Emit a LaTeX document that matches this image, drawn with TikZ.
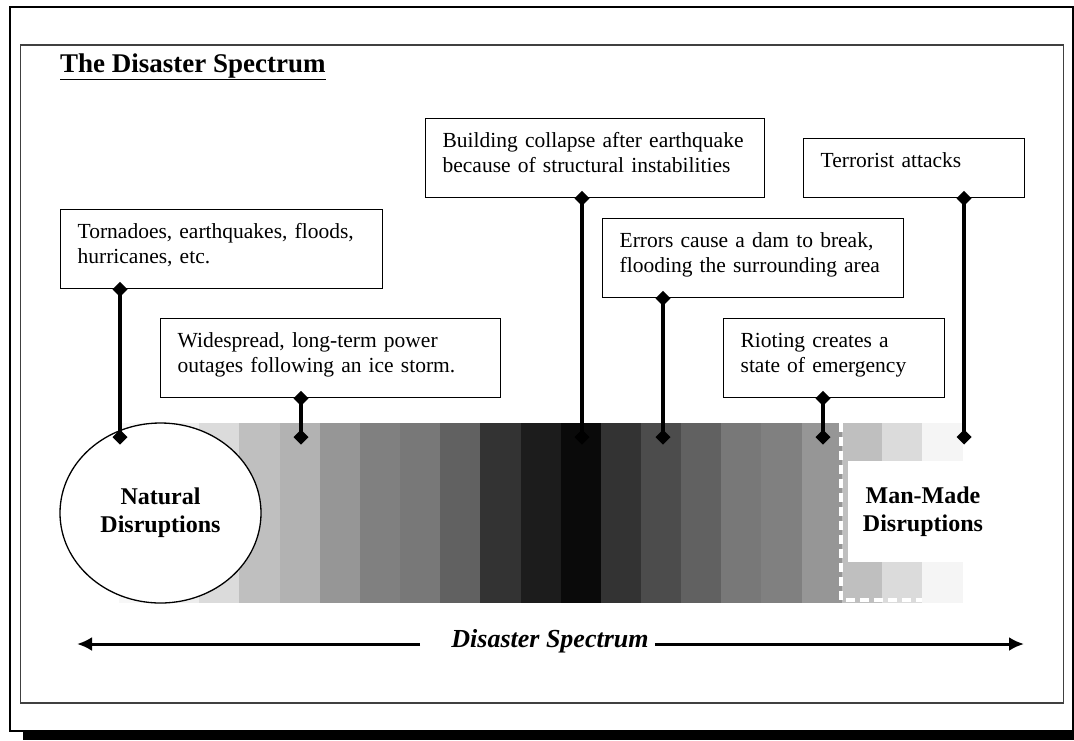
\documentclass[tikz,border=0pt]{standalone}
\usepackage{fontspec}
\setmainfont{Liberation Serif}
\usetikzlibrary{arrows.meta,shapes.geometric}

\tikzset{
  event/.style={draw, fill=white, line width=1.3pt, anchor=north west,
    inner xsep=17pt, inner ysep=0pt, align=left,
    font=\fontsize{21.5}{25}\selectfont, text height=29pt, text depth=50pt},
  pin/.style={line width=3.5pt,
    {Diamond[length=15pt,width=15pt]}-{Diamond[length=15pt,width=15pt]},
    shorten <=-7.5pt, shorten >=-7.5pt},
  kind/.style={font=\fontsize{24}{28}\selectfont\bfseries, align=center, inner sep=0pt},
  axis/.style={line width=3pt, -{Latex[length=15pt,width=14pt]}},
}

\begin{document}
\begin{tikzpicture}[x=1pt,y=-1pt]
\useasboundingbox (0,0) rectangle (1074,740);
\fill[white] (0,0) rectangle (1074,740);
% frames
\draw[line width=2.5pt] (10,7) rectangle (1073,731);
\fill (23,731) rectangle (1074,740);
\draw[line width=1.5pt, black!75] (20.5,45) rectangle (1063.5,703);
\node[anchor=base west, font=\fontsize{27}{30}\selectfont\bfseries, inner sep=0pt] (title) at (60,72) {\underline{The Disaster Spectrum}};

% grey strips
\foreach \g [count=\i from 0] in {97,93,86,75,70,59,50,47,38,20,11,4,20,30,38,47,50,59,75,86,96}
  \fill[white!\g!black] ({119+40.15*\i},423) rectangle ({159.5+40.15*\i},603);

\node[ellipse, draw, fill=white, line width=1.3pt, minimum width=201pt, minimum height=180pt, kind] (natural) at (160.5,513) {Natural\\Disruptions};
\node[fill=white, minimum width=150pt, minimum height=101pt, kind] (manmade) at (923,511.5) {Man-Made\\Disruptions};
\draw[white, line width=4pt, dash pattern=on 9pt off 5pt] (841,423) -- (841,600) -- (922,600);

% example boxes
\node[event, text width=288pt] (storm) at (60,209) {Tornadoes, earthquakes, floods,\\hurricanes, etc.};
\node[event, text width=306pt] (ice) at (160,318) {Widespread, long-term power\\outages following an ice storm.};
\node[event, text width=305pt] (quake) at (425,118) {Building collapse after earthquake\\because of structural instabilities};
\node[event, text width=187pt, text depth=30pt] (terror) at (803,138) {Terrorist attacks};
\node[event, text width=267pt] (dam) at (602,218) {Errors cause a dam to break,\\flooding the surrounding area};
\node[event, text width=187pt] (riot) at (723,318) {Rioting creates a\\state of emergency};

% pins
\coordinate (p1) at (120,437);
\coordinate (p2) at (301,437);
\coordinate (p3) at (582,437);
\coordinate (p4) at (663,437);
\coordinate (p5) at (823,437);
\coordinate (p6) at (964,437);
\draw[pin] (storm.south -| p1) -- (p1);
\draw[pin] (ice.south -| p2) -- (p2);
\draw[pin] (quake.south -| p3) -- (p3);
\draw[pin] (dam.south -| p4) -- (p4);
\draw[pin] (riot.south -| p5) -- (p5);
\draw[pin] (terror.south -| p6) -- (p6);

% spectrum arrow
\node[font=\fontsize{26}{30}\selectfont\bfseries\itshape, inner sep=0pt] (spectrum) at (550,641) {Disaster Spectrum};
\coordinate (lend) at (77,644);
\coordinate (rend) at (1024,644);
\draw[axis, shorten <=31pt] (spectrum.west |- lend) -- (lend);
\draw[axis, shorten <=6pt] (spectrum.east |- rend) -- (rend);
\end{tikzpicture}
\end{document}
